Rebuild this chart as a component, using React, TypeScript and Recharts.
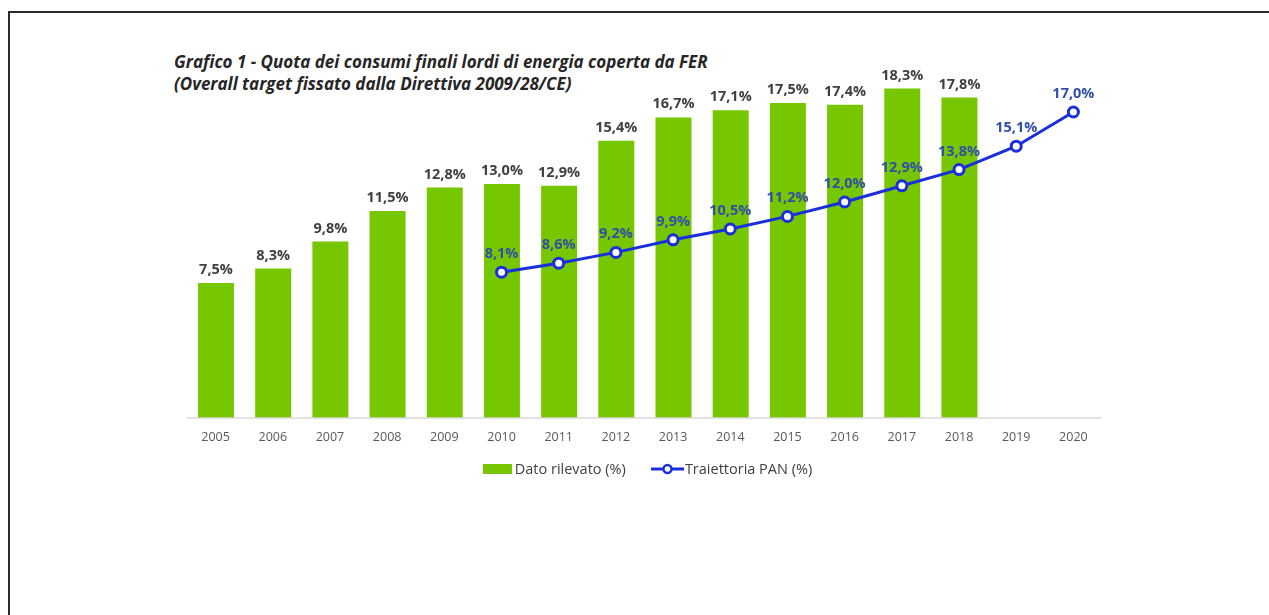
import { ComposedChart, Bar, Line, XAxis, YAxis, Legend, LabelList } from 'recharts';

const years = ['2005', '2006', '2007', '2008', '2009', '2010', '2011', '2012', '2013', '2014', '2015', '2016', '2017', '2018', '2019', '2020'];
const datoRilevato = [7.5, 8.3, 9.8, 11.5, 12.8, 13.0, 12.9, 15.4, 16.7, 17.1, 17.5, 17.4, 18.3, 17.8, null, null];
const traiettoriaPan = [null, null, null, null, null, 8.1, 8.6, 9.2, 9.9, 10.5, 11.2, 12.0, 12.9, 13.8, 15.1, 17.0];

const seriesNames = ['Dato rilevato (%)', 'Traiettoria PAN (%)'];

const data = years.map((y, i) => ({
  year: y,
  dato: datoRilevato[i],
  pan: traiettoriaPan[i],
}));

const GREEN = '#76C700';
const BLUE = '#1A2FDC';
const FONT = '"Open Sans", Lato, sans-serif';

const fmt = (v: any) => (v == null ? '' : Number(v).toFixed(1).replace('.', ',') + '%');

function LegendContent() {
  return (
    <div
      style={{
        display: 'flex',
        justifyContent: 'center',
        alignItems: 'center',
        fontFamily: FONT,
        fontSize: 14.5,
        color: '#404040',
        paddingLeft: 6,
      }}
    >
      <span style={{ display: 'inline-block', width: 29, height: 10, background: GREEN, marginRight: 3 }} />
      <span>{seriesNames[0]}</span>
      <svg width={33} height={12} style={{ marginLeft: 25 }}>
        <line x1={0} y1={6} x2={33} y2={6} stroke={BLUE} strokeWidth={3} />
        <circle cx={16.5} cy={6} r={4} fill="#fff" stroke={BLUE} strokeWidth={2.5} />
      </svg>
      <span style={{ marginLeft: 1 }}>{seriesNames[1]}</span>
    </div>
  );
}

export default function App() {
  return (
    <div style={{ position: 'relative', width: 1253, height: 600, fontFamily: FONT }}>
      <div style={{ position: 'fixed', left: 8, top: 11, right: 0, height: 2, background: '#2a2a2a' }} />
      <div style={{ position: 'fixed', left: 8, top: 11, width: 2, bottom: 0, background: '#2a2a2a' }} />
      <div
        style={{
          position: 'absolute',
          left: 166,
          top: 43,
          fontSize: 17,
          fontWeight: 700,
          fontStyle: 'italic',
          lineHeight: '22px',
          color: '#262626',
          whiteSpace: 'nowrap',
        }}
      >
        <div>Grafico 1 - Quota dei consumi finali lordi di energia coperta da FER</div>
        <div>(Overall target fissato dalla Direttiva 2009/28/CE)</div>
      </div>
      <ComposedChart
        width={1253}
        height={600}
        data={data}
        margin={{ top: 50, right: 159, left: 179, bottom: 160 }}
        barCategoryGap={0}
      >
        <XAxis
          dataKey="year"
          height={30}
          axisLine={{ stroke: '#d9d9d9', strokeWidth: 1.5 }}
          tickLine={false}
          tickMargin={8}
          interval={0}
          tick={{ fontSize: 12.5, fill: '#595959', fontFamily: FONT }}
        />
        <YAxis hide domain={[0, 20]} />
        <Legend
          verticalAlign="middle"
          align="center"
          layout="horizontal"
          wrapperStyle={{ top: 451 }}
          content={() => <LegendContent />}
        />
        <Bar dataKey="dato" name={seriesNames[0]} fill={GREEN} barSize={36} isAnimationActive={false}>
          <LabelList
            dataKey="dato"
            position="top"
            offset={9}
            formatter={fmt}
            style={{ fontSize: 14.5, fontWeight: 700, fill: '#404040', fontFamily: FONT }}
          />
        </Bar>
        <Line
          dataKey="pan"
          name={seriesNames[1]}
          stroke={BLUE}
          strokeWidth={3}
          dot={{ r: 5, fill: '#fff', stroke: BLUE, strokeWidth: 3 }}
          isAnimationActive={false}
          connectNulls={false}
        >
          <LabelList
            dataKey="pan"
            position="top"
            offset={14}
            formatter={fmt}
            style={{ fontSize: 14.5, fontWeight: 700, fill: '#2F4FA8', fontFamily: FONT }}
          />
        </Line>
      </ComposedChart>
    </div>
  );
}
